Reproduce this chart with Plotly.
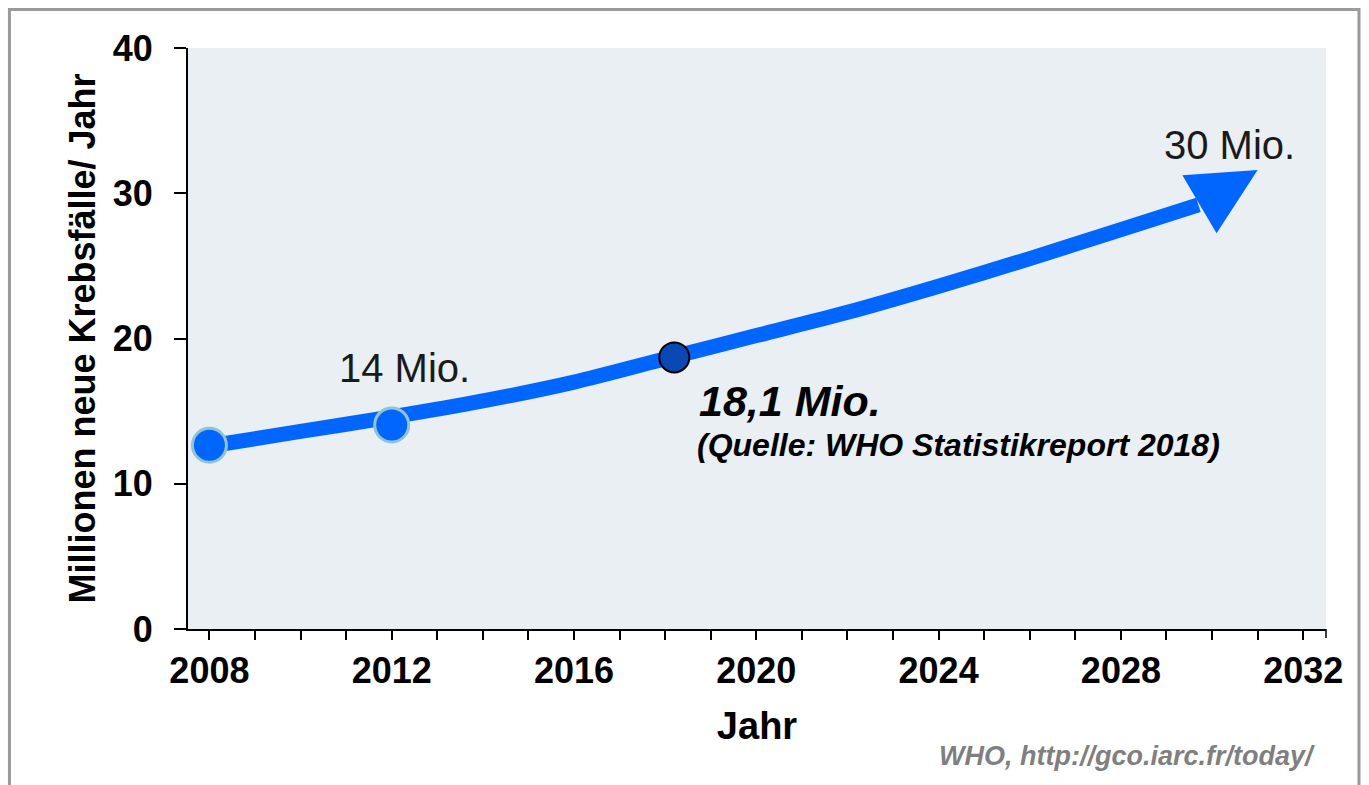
import plotly.graph_objects as go

# ---- data ----
years = [2008, 2010, 2012, 2014, 2016, 2018, 2020, 2022, 2024, 2026, 2028, 2029.7]
cases = [12.6, 13.6, 14.6, 15.7, 17.0, 18.6, 20.2, 21.8, 23.6, 25.5, 27.5, 29.2]

marker_years = [2008, 2012]
marker_cases = [12.65, 14.05]

highlight_year = [2018.2]
highlight_cases = [18.7]

arrow_tip_year = 2031.0
arrow_tip_cases = 31.6

x_ticks = [2008, 2012, 2016, 2020, 2024, 2028, 2032]
y_ticks = [0, 10, 20, 30, 40]

FONT = "Arial, Liberation Sans, sans-serif"
BLUE = "#0066ff"

fig = go.Figure()

fig.add_trace(go.Scatter(
    x=years, y=cases, mode="lines",
    line=dict(color=BLUE, width=15, shape="spline", smoothing=0.8),
    hoverinfo="skip", showlegend=False,
))

fig.add_trace(go.Scatter(
    x=marker_years, y=marker_cases, mode="markers",
    marker=dict(color=BLUE, size=34, line=dict(color="#8fc4d2", width=3)),
    hoverinfo="skip", showlegend=False,
))

fig.add_trace(go.Scatter(
    x=highlight_year, y=highlight_cases, mode="markers",
    marker=dict(color="#0a48b4", size=30, line=dict(color="black", width=2)),
    hoverinfo="skip", showlegend=False,
))

# arrow head from the last line point to the tip
fig.add_annotation(
    x=arrow_tip_year, y=arrow_tip_cases, xref="x", yref="y",
    ax=years[-1], ay=cases[-1], axref="x", ayref="y",
    showarrow=True, arrowhead=2, arrowsize=0.9, arrowwidth=15,
    arrowcolor=BLUE, standoff=0, text="",
)

fig.add_annotation(x=2012.29, y=17.95, xref="x", yref="y", text="14 Mio.",
                   showarrow=False, xanchor="center", yanchor="middle",
                   font=dict(family=FONT, size=40, color="#1a1a1a"))
fig.add_annotation(x=2030.38, y=33.3, xref="x", yref="y", text="30 Mio.",
                   showarrow=False, xanchor="center", yanchor="middle",
                   font=dict(family=FONT, size=40, color="#1a1a1a"))
fig.add_annotation(x=2018.69, y=15.7, xref="x", yref="y", text="<b><i>18,1 Mio.</i></b>",
                   showarrow=False, xanchor="left", yanchor="middle",
                   font=dict(family=FONT, size=43, color="black"))
fig.add_annotation(x=2018.66, y=12.67, xref="x", yref="y",
                   text="<b><i>(Quelle: WHO Statistikreport 2018)</i></b>",
                   showarrow=False, xanchor="left", yanchor="middle",
                   font=dict(family=FONT, size=32, color="black"))
fig.add_annotation(x=0.992, y=-0.2186, xref="paper", yref="paper",
                   text="<b><i>WHO, http://gco.iarc.fr/today/</i></b>",
                   showarrow=False, xanchor="right", yanchor="middle",
                   font=dict(family=FONT, size=27, color="#7f7f7f"))

# outer grey frame (open at the bottom) and end tick of x axis
fig.add_shape(type="path", xref="paper", yref="paper",
              path="M -0.1569,-0.4 L -0.1569,1.0663 L 1.0290,1.0663 L 1.0290,-0.4",
              line=dict(color="#9a9a9a", width=3))
fig.add_shape(type="line", xref="paper", yref="paper",
              x0=1, x1=1, y0=0, y1=-9 / 581, line=dict(color="black", width=1.5))

fig.update_layout(
    width=1369, height=785,
    margin=dict(l=188, r=43, t=48, b=156),
    paper_bgcolor="white", plot_bgcolor="#e9eff3",
    font=dict(family=FONT, color="black"),
    showlegend=False,
)

fig.update_xaxes(
    range=[2007.53, 2032.5], tickmode="array", tickvals=x_ticks,
    ticks="outside", ticklen=9, tickwidth=1.5, tickcolor="black",
    minor=dict(dtick=1, tick0=2008, ticks="outside", ticklen=9, tickwidth=1.5,
               tickcolor="black", showgrid=False),
    showline=True, linecolor="black", linewidth=2, showgrid=False, zeroline=False,
    tickfont=dict(family=FONT, size=36, weight="bold"), ticklabelstandoff=0,
    title=dict(text="Jahr", font=dict(family=FONT, size=38, weight="bold"), standoff=22),
)
fig.update_yaxes(
    range=[0, 40], tickmode="array", tickvals=y_ticks,
    ticks="outside", ticklen=12, tickwidth=1.5, tickcolor="black",
    showline=True, linecolor="black", linewidth=2, showgrid=False, zeroline=False,
    tickfont=dict(family=FONT, size=36, weight="bold"), ticklabelstandoff=14,
    title=dict(text="Millionen neue Krebsfälle/ Jahr",
               font=dict(family=FONT, size=36, weight="bold"), standoff=6),
)

fig.write_html("out.html", config={"displayModeBar": False},
               post_script="document.body.style.margin='0';document.body.style.overflow='hidden';")
